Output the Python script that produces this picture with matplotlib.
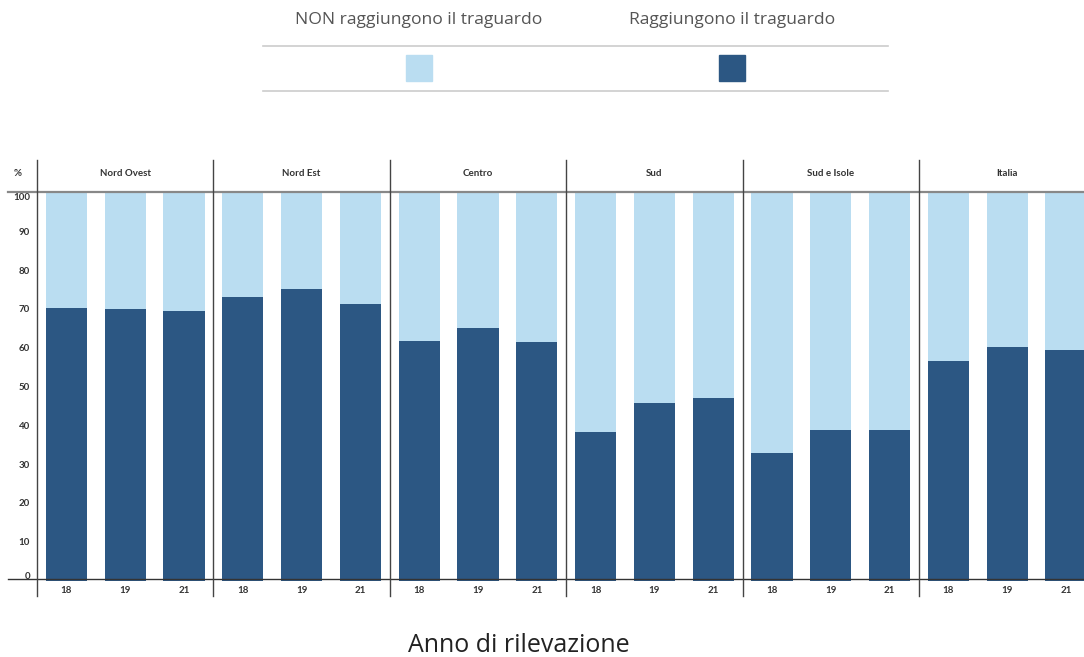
import matplotlib
matplotlib.use("Agg")
import matplotlib.pyplot as plt
from matplotlib.lines import Line2D
from matplotlib.patches import Rectangle

regions = ["Nord Ovest", "Nord Est", "Centro", "Sud", "Sud e Isole", "Italia"]
years = ["18", "19", "21"]
raggiungono = [
    [70.3, 70.1, 69.6],
    [73.1, 75.2, 71.3],
    [61.8, 65.1, 61.6],
    [38.3, 45.8, 47.1],
    [32.9, 38.8, 38.8],
    [56.6, 60.2, 59.4],
]
non_raggiungono = [[100 - v for v in row] for row in raggiungono]
yticks = list(range(0, 101, 10))
legend_labels = ["NON raggiungono il traguardo", "Raggiungono il traguardo"]
xlabel = "Anno di rilevazione"

C_LIGHT = "#BADDF1"
C_DARK = "#2C5783"

W, H = 1084, 657
fig = plt.figure(figsize=(W / 100, H / 100), dpi=100)

def fx(px):
    return px / W

def fy(py):
    return 1 - py / H

x0 = 37.0
pw = 176.4
ytop, ybot = 192.6, 580.6
FS = 7

for i, reg in enumerate(regions):
    ax = fig.add_axes([fx(x0 + i * pw), fy(ybot), fx(pw), (ybot - ytop) / H])
    xs = list(range(len(years)))
    ax.bar(xs, raggiungono[i], width=0.7, color=C_DARK, linewidth=0)
    ax.bar(xs, non_raggiungono[i], width=0.7, bottom=raggiungono[i], color=C_LIGHT, linewidth=0)
    ax.set_xlim(-0.5, 2.5)
    ax.set_ylim(0, 100)
    for s in ax.spines.values():
        s.set_visible(False)
    ax.set_xticks(xs)
    ax.set_xticklabels(years, fontsize=FS, fontweight="bold", color="#333333", family="Lato")
    ax.tick_params(axis="x", length=0, pad=4)
    if i == 0:
        ax.set_yticks(yticks)
        ax.set_yticklabels([str(t) for t in yticks], fontsize=FS, fontweight="bold",
                           color="#333333", family="Lato")
        ax.tick_params(axis="y", length=0, pad=5)
        labs = ax.get_yticklabels()
        labs[0].set_va("bottom")
        labs[-1].set_va("top")
    else:
        ax.set_yticks([])
    ax.set_facecolor("none")
    fig.text(fx(x0 + i * pw + pw / 2), fy(174), reg, ha="center", va="center",
             fontsize=FS, fontweight="bold", color="#333333", family="Lato")

# header "%"
fig.text(fx(18), fy(174), "%", ha="center", va="center", fontsize=FS,
         fontweight="bold", color="#333333", family="Lato")

# grid lines of the table layout
fig.add_artist(Line2D([fx(8), 1], [fy(192), fy(192)], color="#888888", lw=1.6))
fig.add_artist(Line2D([fx(8), 1], [fy(579), fy(579)], color="#333333", lw=1.0))
for i in range(len(regions)):
    xp = x0 + i * pw
    fig.add_artist(Line2D([fx(xp), fx(xp)], [fy(160), fy(596)], color="#444444", lw=1.0))

# legend
fig.add_artist(Line2D([fx(263), fx(888)], [fy(46), fy(46)], color="#cccccc", lw=1.2))
fig.add_artist(Line2D([fx(263), fx(888)], [fy(91), fy(91)], color="#cccccc", lw=1.2))
for cx, lab, col in [(419, legend_labels[0], C_LIGHT), (732, legend_labels[1], C_DARK)]:
    fig.text(fx(cx), fy(20), lab, ha="center", va="center", fontsize=12.6,
             color="#555555", family="Open Sans")
    fig.add_artist(Rectangle((fx(cx - 13), fy(81)), fx(26), 26 / H, color=col,
                             transform=fig.transFigure))

fig.text(fx(519), fy(645), xlabel, ha="center", va="center", fontsize=18,
         color="#222222", family="Open Sans")

fig.savefig("out.png", dpi=100)
